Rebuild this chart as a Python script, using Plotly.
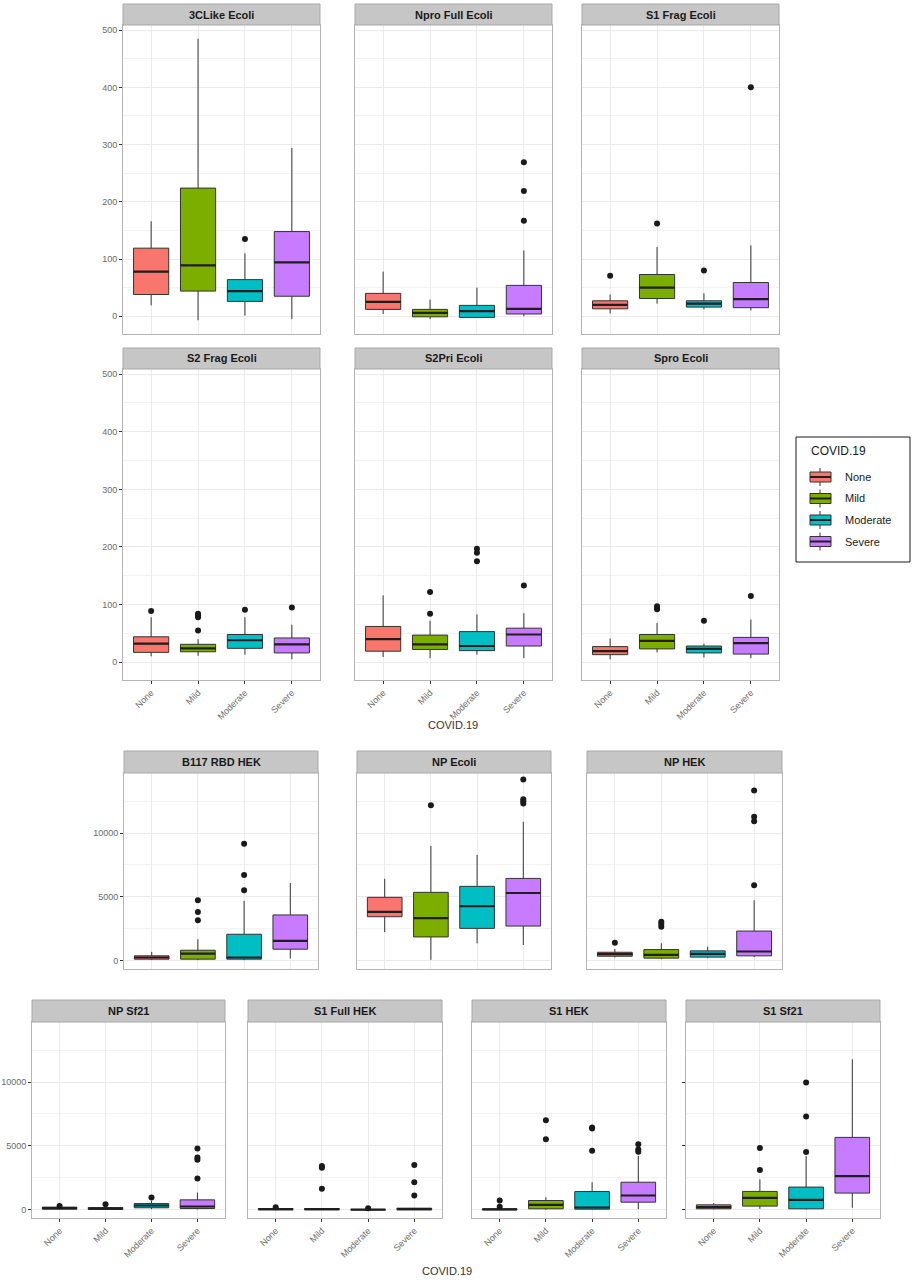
import plotly.graph_objects as go

W, H = 914, 1280
CATEGORIES = ["None", "Mild", "Moderate", "Severe"]
FILLS = ["#F8766D", "#7CAE00", "#00BFC4", "#C77CFF"]

# ---- data (box statistics) ----
CL3_ECOLI = dict(q1=[38, 44, 26, 35], med=[78, 89, 44, 94], q3=[119, 224, 64, 148],
                 lo=[19, -7, 1, -5], hi=[166, 485, 110, 294], out=[[], [], [135], []])
NPRO_FULL_ECOLI = dict(q1=[12, -1, -2, 4], med=[25, 6, 9, 13], q3=[40, 12, 19, 54],
                       lo=[4, -5, -2, 0], hi=[78, 29, 50, 115], out=[[], [], [], [167, 219, 269]])
S1_FRAG_ECOLI = dict(q1=[13, 31, 16, 15], med=[20, 50, 22, 30], q3=[27, 73, 27, 59],
                     lo=[5, 22, 12, 10], hi=[38, 121, 40, 124], out=[[71], [162], [80], [400]])
S2_FRAG_ECOLI = dict(q1=[17, 18, 24, 16], med=[32, 24, 38, 31], q3=[44, 31, 48, 42],
                     lo=[10, 11, 13, 5], hi=[78, 40, 78, 65], out=[[89], [55, 78, 81, 84], [91], [95]])
S2PRI_ECOLI = dict(q1=[19, 22, 20, 28], med=[40, 31, 28, 48], q3=[62, 47, 53, 59],
                   lo=[9, 7, 13, 7], hi=[116, 72, 83, 85], out=[[], [84, 122], [175, 190, 197], [133]])
SPRO_ECOLI = dict(q1=[13, 23, 16, 14], med=[19, 37, 23, 33], q3=[27, 48, 28, 43],
                  lo=[5, 17, 8, 7], hi=[41, 68, 32, 74], out=[[], [92, 94, 97], [72], [115]])
B117_RBD_HEK = dict(q1=[130, 130, 130, 910], med=[260, 570, 260, 1560], q3=[390, 830, 2080, 3590],
                    lo=[50, 50, 50, 180], hi=[700, 1690, 4690, 6090],
                    out=[[], [3180, 3830, 4740], [5520, 6720, 9170], []])
NP_ECOLI = dict(q1=[3450, 1870, 2540, 2720], med=[3830, 3340, 4270, 5310], q3=[4970, 5360, 5830, 6450],
                lo=[2250, 80, 1370, 1240], hi=[6420, 8990, 8290, 10880],
                out=[[], [12180], [], [12310, 12480, 12640, 14200]])
NP_HEK = dict(q1=[360, 210, 290, 390], med=[520, 470, 540, 730], q3=[670, 880, 780, 2330],
              lo=[260, 130, 210, 290], hi=[930, 1370, 1110, 4740],
              out=[[1420], [2670, 2880, 3060], [], [5910, 10930, 11270, 13340]])
NP_SF21 = dict(q1=[50, 30, 160, 100], med=[130, 100, 340, 260], q3=[210, 180, 490, 780],
               lo=[30, 0, 50, 30], hi=[250, 310, 700, 1350],
               out=[[290], [440], [960], [2450, 3910, 4090, 4790]])
S1_FULL_HEK = dict(q1=[0, 0, 0, 0], med=[50, 50, 10, 50], q3=[100, 100, 30, 130],
                   lo=[0, 0, 0, 0], hi=[120, 120, 60, 150],
                   out=[[210], [1640, 3300, 3430], [130], [1120, 2160, 3510]])
S1_HEK = dict(q1=[0, 80, 50, 600], med=[30, 390, 180, 1120], q3=[80, 730, 1430, 2160],
              lo=[0, 0, 0, 50], hi=[210, 990, 2160, 4230],
              out=[[250, 730], [5530, 7010], [4620, 6360, 6440], [4550, 4730, 5140]])
S1_SF21 = dict(q1=[80, 290, 80, 1310], med=[210, 940, 780, 2640], q3=[390, 1440, 1780, 5670],
               lo=[30, 80, 30, 160], hi=[520, 2380, 4210, 11780],
               out=[[], [3110, 4830], [4520, 7310, 9970], []])

PANELS = [("3CLike Ecoli", CL3_ECOLI), ("Npro Full Ecoli", NPRO_FULL_ECOLI),
          ("S1 Frag Ecoli", S1_FRAG_ECOLI), ("S2 Frag Ecoli", S2_FRAG_ECOLI),
          ("S2Pri Ecoli", S2PRI_ECOLI), ("Spro Ecoli", SPRO_ECOLI),
          ("B117 RBD HEK", B117_RBD_HEK), ("NP Ecoli", NP_ECOLI), ("NP HEK", NP_HEK),
          ("NP Sf21", NP_SF21), ("S1 Full HEK", S1_FULL_HEK), ("S1 HEK", S1_HEK),
          ("S1 Sf21", S1_SF21)]

SMALL_TICKS = [0, 100, 200, 300, 400, 500]
SMALL_MINOR = [50, 150, 250, 350, 450]
LARGE_TICKS = [0, 5000, 10000]
LARGE_MINOR = [2500, 7500, 12500]

# ---- layout (pixel positions: x0, x1, strip top, plot top, plot bottom) ----
R1 = (4, 25, 334)
R2 = (348, 369, 680)
R3 = (751, 773, 969)
R4 = (1000, 1022, 1218)
PANEL_POS = [(123, 320) + R1, (355, 552) + R1, (582, 779) + R1,
             (123, 320) + R2, (355, 552) + R2, (582, 779) + R2,
             (124, 318) + R3, (357, 551) + R3, (587, 782) + R3,
             (32, 225) + R4, (248, 442) + R4, (472, 666) + R4, (686, 880) + R4]
SHOW_X = [False] * 3 + [True] * 3 + [False] * 3 + [True] * 4
Y_MODE = ["labels", "none", "none", "labels", "none", "none",
          "labels", "none", "none", "labels", "none", "none", "ticks"]


def fx(px):
    return px / W


def fy(py):
    return 1 - py / H


fig = go.Figure()
layout_axes = {}
shapes = []
annotations = []
TICK_FONT = dict(family="Liberation Sans", size=9, color="#6B6B6B")

for k, ((title, d), (x0, x1, s0, p0, p1)) in enumerate(zip(PANELS, PANEL_POS), start=1):
    xa = "x" if k == 1 else f"x{k}"
    ya = "y" if k == 1 else f"y{k}"
    small = k <= 6
    for i, cat in enumerate(CATEGORIES):
        fig.add_trace(go.Box(
            x=[i + 1], q1=[d["q1"][i]], median=[d["med"][i]], q3=[d["q3"][i]],
            lowerfence=[d["lo"][i]], upperfence=[d["hi"][i]], orientation="v",
            width=0.75, fillcolor=FILLS[i], line=dict(color="#333333", width=1),
            whiskerwidth=0, boxpoints=False, xaxis=xa, yaxis=ya,
            showlegend=False, hoverinfo="skip", name=cat))
    mx, my = [], []
    for i in range(4):
        mx += [i + 1 - 0.375, i + 1 + 0.375, None]
        my += [d["med"][i], d["med"][i], None]
    fig.add_trace(go.Scatter(x=mx, y=my, mode="lines", line=dict(color="#1F1F1F", width=2.2),
                             xaxis=xa, yaxis=ya, showlegend=False, hoverinfo="skip"))
    ox, oy = [], []
    for i in range(4):
        for v in d["out"][i]:
            ox.append(i + 1)
            oy.append(v)
    fig.add_trace(go.Scatter(x=ox, y=oy, mode="markers", marker=dict(color="#1A1A1A", size=6),
                             xaxis=xa, yaxis=ya, showlegend=False, hoverinfo="skip"))

    xkey = "xaxis" if k == 1 else f"xaxis{k}"
    ykey = "yaxis" if k == 1 else f"yaxis{k}"
    layout_axes[xkey] = dict(
        domain=[fx(x0), fx(x1)], anchor=ya, range=[0.4, 4.6],
        tickmode="array", tickvals=[1, 2, 3, 4], ticktext=CATEGORIES,
        showticklabels=SHOW_X[k - 1], ticks="outside" if SHOW_X[k - 1] else "",
        ticklen=3, tickcolor="#333333", tickangle=-45, tickfont=TICK_FONT,
        showgrid=True, gridcolor="#EBEBEB", gridwidth=1, zeroline=False,
        showline=True, mirror=True, linecolor="#B5B5B5", linewidth=1, fixedrange=True)
    ymode = Y_MODE[k - 1]
    tv = SMALL_TICKS if small else LARGE_TICKS
    layout_axes[ykey] = dict(
        domain=[fy(p1), fy(p0)], anchor=xa,
        range=[-31, 509] if small else [-640, 14700],
        tickmode="array", tickvals=tv, ticktext=[str(v) for v in tv],
        showticklabels=(ymode == "labels"), ticks="outside" if ymode != "none" else "",
        ticklen=3, tickcolor="#333333", tickfont=TICK_FONT,
        minor=dict(tickmode="array", tickvals=SMALL_MINOR if small else LARGE_MINOR,
                   showgrid=True, gridcolor="#F3F3F3", gridwidth=0.8, ticks=""),
        showgrid=True, gridcolor="#EBEBEB", gridwidth=1, zeroline=False,
        showline=True, mirror=True, linecolor="#B5B5B5", linewidth=1, fixedrange=True)
    # strip
    shapes.append(dict(type="rect", xref="paper", yref="paper", x0=fx(x0), x1=fx(x1),
                       y0=fy(p0), y1=fy(s0), fillcolor="#C6C6C6",
                       line=dict(color="#A8A8A8", width=1), layer="above"))
    annotations.append(dict(xref="paper", yref="paper", x=fx((x0 + x1) / 2), y=fy((s0 + p0) / 2),
                            text=f"<b>{title}</b>", showarrow=False, xanchor="center",
                            yanchor="middle", font=dict(family="Liberation Sans", size=11,
                                                        color="#1A1A1A")))

# axis titles
for (tx, ty) in [(453, 725), (447, 1271)]:
    annotations.append(dict(xref="paper", yref="paper", x=fx(tx), y=fy(ty), text="COVID.19",
                            showarrow=False, xanchor="center", yanchor="middle",
                            font=dict(family="Liberation Sans", size=11, color="#333333")))

# legend (drawn)
shapes.append(dict(type="rect", xref="paper", yref="paper", x0=fx(796), x1=fx(910),
                   y0=fy(562), y1=fy(437), line=dict(color="#1A1A1A", width=1),
                   fillcolor="rgba(0,0,0,0)"))
annotations.append(dict(xref="paper", yref="paper", x=fx(809), y=fy(451), text="COVID.19",
                        showarrow=False, xanchor="left", yanchor="middle",
                        font=dict(family="Liberation Sans", size=12, color="#1A1A1A")))
for i, cat in enumerate(CATEGORIES):
    cy = [477, 498.5, 520, 541.5][i]
    shapes.append(dict(type="line", xref="paper", yref="paper", x0=fx(820), x1=fx(820),
                       y0=fy(cy + 9), y1=fy(cy - 9), line=dict(color="#333333", width=1)))
    shapes.append(dict(type="rect", xref="paper", yref="paper", x0=fx(810), x1=fx(831),
                       y0=fy(cy + 5), y1=fy(cy - 5), fillcolor=FILLS[i],
                       line=dict(color="#333333", width=1)))
    shapes.append(dict(type="line", xref="paper", yref="paper", x0=fx(810), x1=fx(831),
                       y0=fy(cy), y1=fy(cy), line=dict(color="#1F1F1F", width=2)))
    annotations.append(dict(xref="paper", yref="paper", x=fx(843), y=fy(cy), text=cat,
                            showarrow=False, xanchor="left", yanchor="middle",
                            font=dict(family="Liberation Sans", size=11, color="#1A1A1A")))

fig.update_layout(
    width=W, height=H, margin=dict(l=0, r=0, t=0, b=0),
    paper_bgcolor="white", plot_bgcolor="white", boxmode="overlay",
    font=dict(family="Liberation Sans"), showlegend=False,
    shapes=shapes, annotations=annotations, **layout_axes)

fig.write_html("out.html", config={"displayModeBar": False},
               post_script="document.body.style.margin='0';document.body.style.padding='0';")
